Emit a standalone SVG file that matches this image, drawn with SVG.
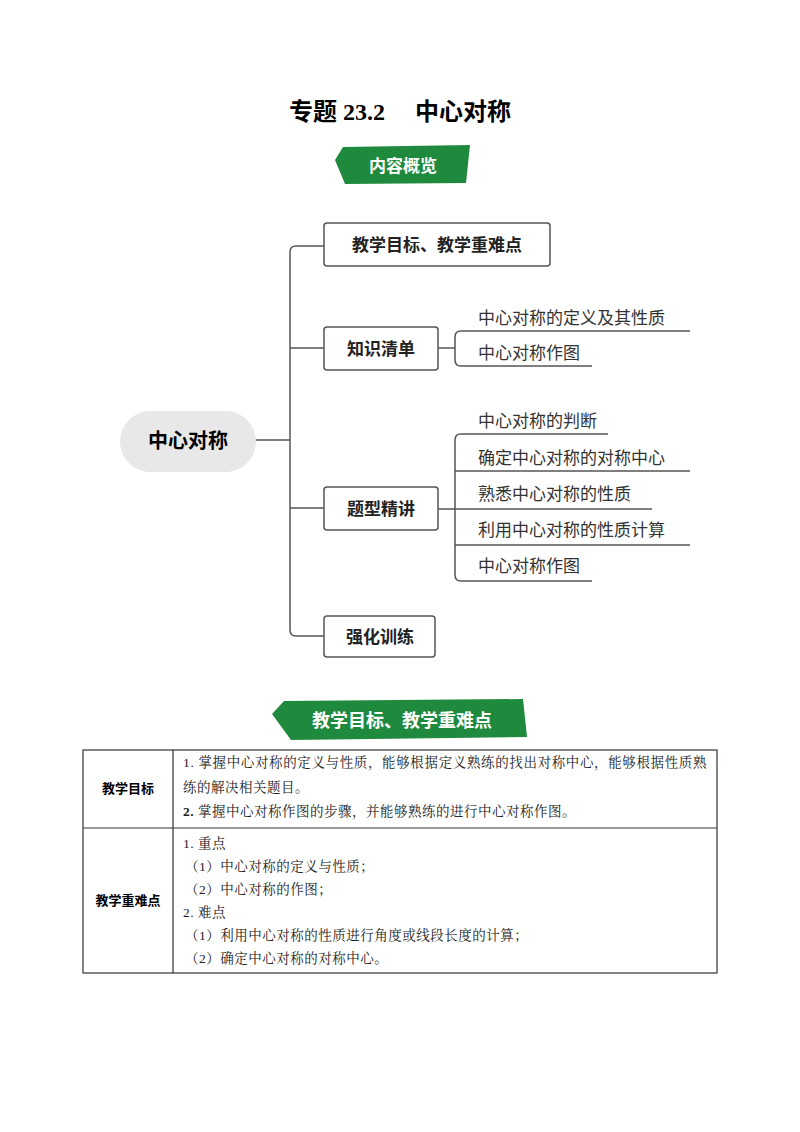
<svg xmlns="http://www.w3.org/2000/svg" width="800" height="1132" viewBox="0 0 800 1132">
<style>
.t{font-family:"Noto Sans CJK SC",sans-serif;}
.s{font-family:"Liberation Serif","Noto Serif CJK SC","Noto Sans CJK SC",serif;font-size:13.5px;fill:#222;letter-spacing:0.5px}
.box{fill:#fff;stroke:#555;stroke-width:1.5}
.ln{fill:none;stroke:#555;stroke-width:1.5}
.bt{font-family:"Noto Sans CJK SC",sans-serif;font-size:17px;font-weight:bold;fill:#222}
.lt{font-family:"Noto Sans CJK SC",sans-serif;font-size:17px;fill:#333}
.ban{fill:#1f8a3e}
.bw{font-family:"Noto Sans CJK SC",sans-serif;font-weight:bold;fill:#fff}
</style>
<rect width="800" height="1132" fill="#fff"/>
<text x="400" y="120" text-anchor="middle" style="font-family:'Liberation Serif','Noto Sans CJK SC',serif;font-size:24px;font-weight:bold">专题 23.2　 中心对称</text>
<g id="banner1"><path class="ban" d="M343,147 L470,145 L466,183 L345,184 L335,160 Z"/><text class="bw" x="403" y="172" text-anchor="middle" font-size="17">内容概览</text></g>
<g id="connectors">
<path class="ln" d="M255,440 H290"/>
<path class="ln" d="M324,246 H296 Q290,246 290,252 V630 Q290,636 296,636 H324"/>
<path class="ln" d="M290,348 H324 M290,508 H324"/>
<path class="ln" d="M438,348 H455"/>
<path class="ln" d="M690,331 H461 Q455,331 455,337 V360 Q455,366 461,366 H592"/>
<path class="ln" d="M608,434 H461 Q455,434 455,440 V575 Q455,581 461,581 H592"/>
<path class="ln" d="M455,471 H690 M455,545 H690 M438,509 H652"/>
</g>
<g id="root"><rect x="120" y="411" width="136" height="61" rx="30.5" fill="#e8e8e8"/><text class="t" x="188" y="448" text-anchor="middle" font-size="20" font-weight="bold">中心对称</text></g>
<g id="n1"><rect class="box" x="324" y="223" width="226" height="43" rx="3"/><text class="bt" x="437" y="251" text-anchor="middle">教学目标、教学重难点</text></g>
<g id="n2"><rect class="box" x="324" y="327" width="114" height="43" rx="3"/><text class="bt" x="381" y="355" text-anchor="middle">知识清单</text></g>
<g id="n3"><rect class="box" x="324" y="487" width="114" height="43" rx="3"/><text class="bt" x="381" y="515" text-anchor="middle">题型精讲</text></g>
<g id="n4"><rect class="box" x="324" y="616" width="111" height="41" rx="3"/><text class="bt" x="380" y="643" text-anchor="middle">强化训练</text></g>
<g id="leaves">
<text class="lt" x="478" y="324">中心对称的定义及其性质</text>
<text class="lt" x="478" y="359">中心对称作图</text>
<text class="lt" x="478" y="427">中心对称的判断</text>
<text class="lt" x="478" y="464">确定中心对称的对称中心</text>
<text class="lt" x="478" y="500">熟悉中心对称的性质</text>
<text class="lt" x="478" y="536">利用中心对称的性质计算</text>
<text class="lt" x="478" y="572">中心对称作图</text>
</g>
<g id="banner2"><path class="ban" d="M284,701 L523,699 L527,737 L291,740 L272,714 Z"/><text class="bw" x="402" y="727" text-anchor="middle" font-size="18">教学目标、教学重难点</text></g>
<g id="table">
<rect x="83" y="750" width="634" height="223" fill="none" stroke="#333" stroke-width="1.2"/>
<path d="M173,750 V973 M83,828 H717" stroke="#333" stroke-width="1.2"/>
<text class="t" x="128" y="793" text-anchor="middle" font-size="13" font-weight="bold">教学目标</text>
<text class="t" x="128" y="905" text-anchor="middle" font-size="13" font-weight="bold">教学重难点</text>
<text class="s" x="183" y="767" textLength="524" lengthAdjust="spacing">1. 掌握中心对称的定义与性质，能够根据定义熟练的找出对称中心，能够根据性质熟</text>
<text class="s" x="183" y="792">练的解决相关题目。</text>
<text class="s" x="183" y="816"><tspan font-weight="bold">2.</tspan> 掌握中心对称作图的步骤，并能够熟练的进行中心对称作图。</text>
<text class="s" x="183" y="848">1. 重点</text>
<text class="s" x="185" y="871">（1）中心对称的定义与性质；</text>
<text class="s" x="185" y="894">（2）中心对称的作图；</text>
<text class="s" x="183" y="917">2. 难点</text>
<text class="s" x="185" y="940">（1）利用中心对称的性质进行角度或线段长度的计算；</text>
<text class="s" x="185" y="963">（2）确定中心对称的对称中心。</text>
</g>
</svg>
